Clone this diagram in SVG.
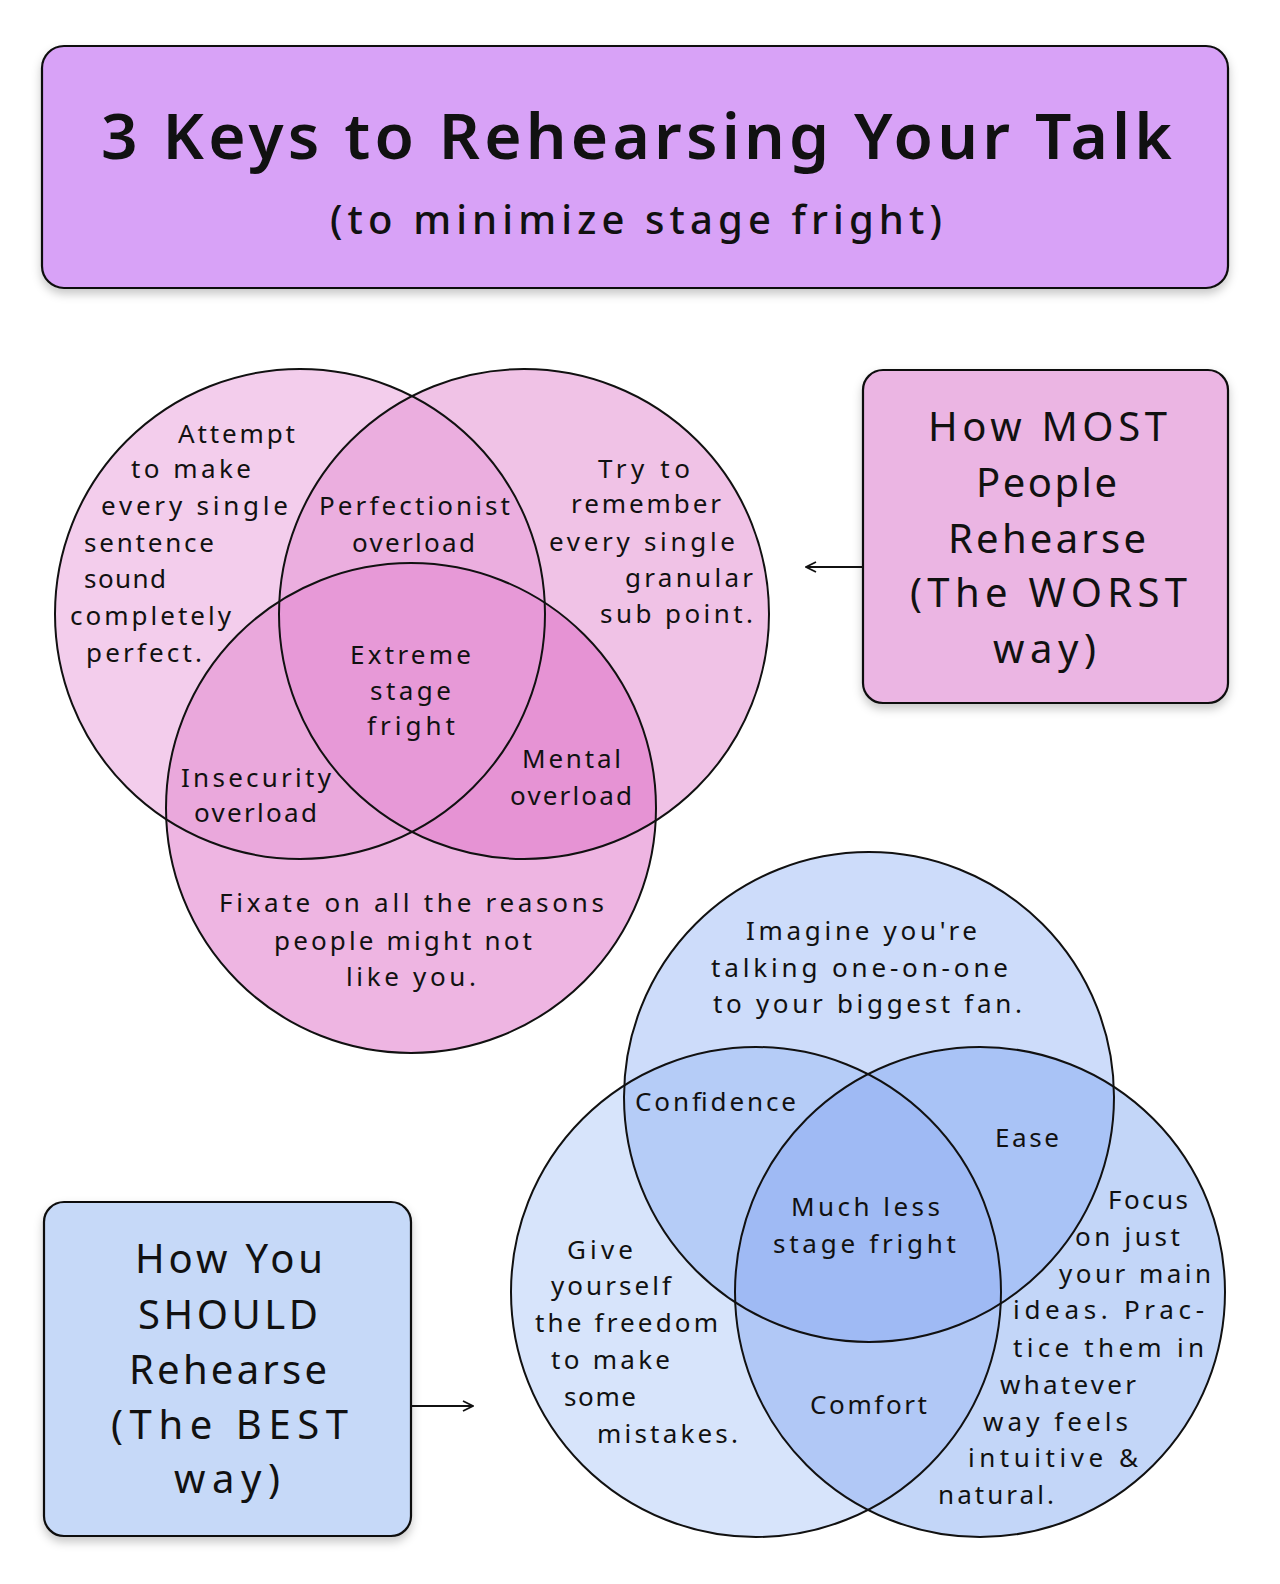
<svg xmlns="http://www.w3.org/2000/svg" width="1280" height="1584" viewBox="0 0 1280 1584">
<defs>
<style>
.t{font-family:"Noto Sans","Open Sans","Liberation Sans",sans-serif;fill:#111;}
.s{font-size:26px;}
.b{font-size:40px;}
.ol{fill:none;stroke:#111;stroke-width:2;}
.box{stroke:#111;stroke-width:2.2;}
.con{fill:none;stroke:#111;stroke-width:1.8;}
</style>
<filter id="sh" x="-10%" y="-10%" width="120%" height="130%">
<feDropShadow dx="0" dy="5" stdDeviation="5" flood-color="#000" flood-opacity="0.22"/>
</filter>
<marker id="ah" viewBox="0 0 12 12" refX="11" refY="6" markerWidth="12" markerHeight="12" markerUnits="userSpaceOnUse" orient="auto">
<path d="M1,1 L11,6 L1,11" fill="none" stroke="#111" stroke-width="1.8"/>
</marker>
<clipPath id="pA"><circle cx="300" cy="614" r="245"/></clipPath>
<clipPath id="pB"><circle cx="524" cy="614" r="245"/></clipPath>
<clipPath id="bT"><circle cx="869" cy="1097" r="245"/></clipPath>
<clipPath id="bL"><circle cx="756" cy="1292" r="245"/></clipPath>
</defs>
<rect width="1280" height="1584" fill="#fff"/>

<g id="title">
<rect class="box" x="42" y="46" width="1186" height="242" rx="22" fill="#d8a2f7" filter="url(#sh)"/>
<text class="t" x="101" y="159" font-size="64" font-weight="600" textLength="1071" lengthAdjust="spacing">3 Keys to Rehearsing Your Talk</text>
<text class="t" x="330" y="234" font-size="40" font-weight="500" textLength="612" lengthAdjust="spacing">(to minimize stage fright)</text>
</g>

<g id="venn-worst">
<g id="worst-regions">
<circle cx="300" cy="614" r="245" fill="#f3cdec"/>
<circle cx="524" cy="614" r="245" fill="#f0c2e6"/>
<circle cx="411" cy="808" r="245" fill="#eeb5e2"/>
<circle cx="524" cy="614" r="245" fill="#ebaedf" clip-path="url(#pA)"/>
<circle cx="411" cy="808" r="245" fill="#eaa8dc" clip-path="url(#pA)"/>
<circle cx="411" cy="808" r="245" fill="#e693d4" clip-path="url(#pB)"/>
<g clip-path="url(#pA)"><circle cx="411" cy="808" r="245" fill="#e799d7" clip-path="url(#pB)"/></g>
<circle class="ol" cx="300" cy="614" r="245"/>
<circle class="ol" cx="524" cy="614" r="245"/>
<circle class="ol" cx="411" cy="808" r="245"/>
</g>
<g id="worst-a">
<text class="t s" x="178" y="443" textLength="117" lengthAdjust="spacing">Attempt</text>
<text class="t s" x="131" y="478" textLength="120" lengthAdjust="spacing">to make</text>
<text class="t s" x="101" y="515" textLength="187" lengthAdjust="spacing">every single</text>
<text class="t s" x="84" y="552" textLength="130" lengthAdjust="spacing">sentence</text>
<text class="t s" x="84" y="588" textLength="82" lengthAdjust="spacing">sound</text>
<text class="t s" x="70" y="625" textLength="161" lengthAdjust="spacing">completely</text>
<text class="t s" x="86" y="662" textLength="116" lengthAdjust="spacing">perfect.</text>
</g>
<g id="worst-b">
<text class="t s" x="598" y="478" textLength="92" lengthAdjust="spacing">Try to</text>
<text class="t s" x="571" y="513" textLength="150" lengthAdjust="spacing">remember</text>
<text class="t s" x="549" y="551" textLength="186" lengthAdjust="spacing">every single</text>
<text class="t s" x="625" y="587" textLength="128" lengthAdjust="spacing">granular</text>
<text class="t s" x="600" y="623" textLength="153" lengthAdjust="spacing">sub point.</text>
</g>
<g id="worst-ab">
<text class="t s" x="319" y="515" textLength="191" lengthAdjust="spacing">Perfectionist</text>
<text class="t s" x="352" y="552" textLength="123" lengthAdjust="spacing">overload</text>
</g>
<g id="worst-abc">
<text class="t s" x="350" y="664" textLength="121" lengthAdjust="spacing">Extreme</text>
<text class="t s" x="370" y="700" textLength="81" lengthAdjust="spacing">stage</text>
<text class="t s" x="367" y="735" textLength="88" lengthAdjust="spacing">fright</text>
</g>
<g id="worst-ac">
<text class="t s" x="181" y="787" textLength="150" lengthAdjust="spacing">Insecurity</text>
<text class="t s" x="194" y="822" textLength="123" lengthAdjust="spacing">overload</text>
</g>
<g id="worst-bc">
<text class="t s" x="522" y="768" textLength="99" lengthAdjust="spacing">Mental</text>
<text class="t s" x="510" y="805" textLength="122" lengthAdjust="spacing">overload</text>
</g>
<g id="worst-c">
<text class="t s" x="219" y="912" textLength="385" lengthAdjust="spacing">Fixate on all the reasons</text>
<text class="t s" x="274" y="950" textLength="258" lengthAdjust="spacing">people might not</text>
<text class="t s" x="346" y="986" textLength="130" lengthAdjust="spacing">like you.</text>
</g>
</g>

<g id="box-worst">
<rect class="box" x="863" y="370" width="365" height="333" rx="20" fill="#ebb5e3" filter="url(#sh)"/>
<text class="t b" x="928" y="441" textLength="239" lengthAdjust="spacing">How MOST</text>
<text class="t b" x="976" y="497" textLength="141" lengthAdjust="spacing">People</text>
<text class="t b" x="948" y="553" textLength="198" lengthAdjust="spacing">Rehearse</text>
<text class="t b" x="910" y="607" textLength="277" lengthAdjust="spacing">(The WORST</text>
<text class="t b" x="993" y="663" textLength="103" lengthAdjust="spacing">way)</text>
</g>

<g id="venn-best">
<g id="best-regions">
<circle cx="869" cy="1097" r="245" fill="#cddcfa"/>
<circle cx="756" cy="1292" r="245" fill="#d7e4fb"/>
<circle cx="980" cy="1292" r="245" fill="#c3d6f8"/>
<circle cx="756" cy="1292" r="245" fill="#b5ccf7" clip-path="url(#bT)"/>
<circle cx="980" cy="1292" r="245" fill="#a9c3f6" clip-path="url(#bT)"/>
<circle cx="980" cy="1292" r="245" fill="#b1c8f6" clip-path="url(#bL)"/>
<g clip-path="url(#bT)"><circle cx="980" cy="1292" r="245" fill="#9fbaf4" clip-path="url(#bL)"/></g>
<circle class="ol" cx="869" cy="1097" r="245"/>
<circle class="ol" cx="756" cy="1292" r="245"/>
<circle class="ol" cx="980" cy="1292" r="245"/>
</g>
<g id="best-t">
<text class="t s" x="746" y="940" textLength="231" lengthAdjust="spacing">Imagine you're</text>
<text class="t s" x="711" y="977" textLength="297" lengthAdjust="spacing">talking one-on-one</text>
<text class="t s" x="713" y="1013" textLength="309" lengthAdjust="spacing">to your biggest fan.</text>
</g>
<g id="best-tl"><text class="t s" x="635" y="1111" textLength="161" lengthAdjust="spacing">Confidence</text></g>
<g id="best-tr"><text class="t s" x="995" y="1147" textLength="64" lengthAdjust="spacing">Ease</text></g>
<g id="best-tlr">
<text class="t s" x="791" y="1216" textLength="149" lengthAdjust="spacing">Much less</text>
<text class="t s" x="773" y="1253" textLength="183" lengthAdjust="spacing">stage fright</text>
</g>
<g id="best-l">
<text class="t s" x="567" y="1259" textLength="66" lengthAdjust="spacing">Give</text>
<text class="t s" x="551" y="1295" textLength="120" lengthAdjust="spacing">yourself</text>
<text class="t s" x="535" y="1332" textLength="183" lengthAdjust="spacing">the freedom</text>
<text class="t s" x="551" y="1369" textLength="119" lengthAdjust="spacing">to make</text>
<text class="t s" x="564" y="1406" textLength="72" lengthAdjust="spacing">some</text>
<text class="t s" x="597" y="1443" textLength="141" lengthAdjust="spacing">mistakes.</text>
</g>
<g id="best-lr"><text class="t s" x="810" y="1414" textLength="117" lengthAdjust="spacing">Comfort</text></g>
<g id="best-r">
<text class="t s" x="1108" y="1209" textLength="80" lengthAdjust="spacing">Focus</text>
<text class="t s" x="1075" y="1246" textLength="105" lengthAdjust="spacing">on just</text>
<text class="t s" x="1059" y="1283" textLength="152" lengthAdjust="spacing">your main</text>
<text class="t s" x="1013" y="1319" textLength="191" lengthAdjust="spacing">ideas. Prac-</text>
<text class="t s" x="1013" y="1357" textLength="191" lengthAdjust="spacing">tice them in</text>
<text class="t s" x="1000" y="1394" textLength="136" lengthAdjust="spacing">whatever</text>
<text class="t s" x="983" y="1431" textLength="145" lengthAdjust="spacing">way feels</text>
<text class="t s" x="968" y="1467" textLength="170" lengthAdjust="spacing">intuitive &amp;</text>
<text class="t s" x="938" y="1504" textLength="116" lengthAdjust="spacing">natural.</text>
</g>
</g>

<g id="box-best">
<rect class="box" x="44" y="1202" width="367" height="334" rx="20" fill="#c6d9f8" filter="url(#sh)"/>
<text class="t b" x="135" y="1273" textLength="188" lengthAdjust="spacing">How You</text>
<text class="t b" x="138" y="1329" textLength="180" lengthAdjust="spacing">SHOULD</text>
<text class="t b" x="129" y="1384" textLength="198" lengthAdjust="spacing">Rehearse</text>
<text class="t b" x="111" y="1439" textLength="237" lengthAdjust="spacing">(The BEST</text>
<text class="t b" x="174" y="1493" textLength="106" lengthAdjust="spacing">way)</text>
</g>

<g id="connectors">
<line class="con" x1="863" y1="567" x2="806" y2="567" marker-end="url(#ah)"/>
<line class="con" x1="411" y1="1406" x2="473" y2="1406" marker-end="url(#ah)"/>
</g>
</svg>
